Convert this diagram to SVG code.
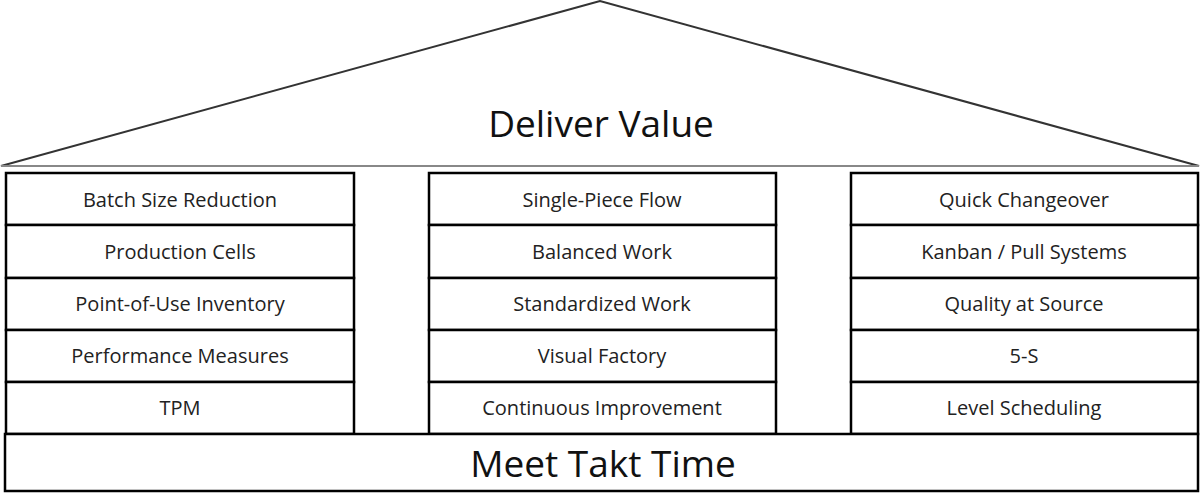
<svg xmlns="http://www.w3.org/2000/svg" width="1200" height="493" viewBox="0 0 1200 493">
<style>
.box{fill:#fff;stroke:#000;stroke-width:2.5}
.t{font-family:"Open Sans",sans-serif;font-size:20px;fill:#222;text-anchor:middle;dominant-baseline:central}
.big{font-family:"Open Sans",sans-serif;font-size:37px;fill:#111;text-anchor:middle;dominant-baseline:central}
</style>
<rect width="1200" height="493" fill="#fff"/>
<g id="roof">
<polygon points="1,166 600,1 1199,166" fill="#fff" stroke="#333" stroke-width="2"/>
<line x1="1" y1="166" x2="1199" y2="166" stroke="#888" stroke-width="2"/>
<text class="big" x="601" y="122">Deliver Value</text>
</g>
<g id="col-left">
<rect class="box" x="6" y="173" width="348" height="52"/><text class="t" x="180" y="199">Batch Size Reduction</text>
<rect class="box" x="6" y="225" width="348" height="53"/><text class="t" x="180" y="251">Production Cells</text>
<rect class="box" x="6" y="278" width="348" height="52"/><text class="t" x="180" y="303">Point-of-Use Inventory</text>
<rect class="box" x="6" y="330" width="348" height="52"/><text class="t" x="180" y="355">Performance Measures</text>
<rect class="box" x="6" y="382" width="348" height="52"/><text class="t" x="180" y="407">TPM</text>
</g>
<g id="col-middle">
<rect class="box" x="429" y="173" width="347" height="52"/><text class="t" x="602" y="199">Single-Piece Flow</text>
<rect class="box" x="429" y="225" width="347" height="53"/><text class="t" x="602" y="251">Balanced Work</text>
<rect class="box" x="429" y="278" width="347" height="52"/><text class="t" x="602" y="303">Standardized Work</text>
<rect class="box" x="429" y="330" width="347" height="52"/><text class="t" x="602" y="355">Visual Factory</text>
<rect class="box" x="429" y="382" width="347" height="52"/><text class="t" x="602" y="407">Continuous Improvement</text>
</g>
<g id="col-right">
<rect class="box" x="851" y="173" width="347" height="52"/><text class="t" x="1024" y="199">Quick Changeover</text>
<rect class="box" x="851" y="225" width="347" height="53"/><text class="t" x="1024" y="251">Kanban / Pull Systems</text>
<rect class="box" x="851" y="278" width="347" height="52"/><text class="t" x="1024" y="303">Quality at Source</text>
<rect class="box" x="851" y="330" width="347" height="52"/><text class="t" x="1024" y="355">5-S</text>
<rect class="box" x="851" y="382" width="347" height="52"/><text class="t" x="1024" y="407">Level Scheduling</text>
</g>
<g id="base">
<rect class="box" x="5" y="434" width="1193" height="57" stroke-width="3"/>
<text class="big" x="603" y="462">Meet Takt Time</text>
</g>
<g id="connectors"/>
</svg>
